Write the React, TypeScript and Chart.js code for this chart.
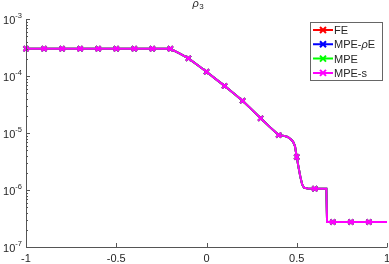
import React, { useEffect, useRef } from "react";
import { Chart, registerables } from "chart.js";

Chart.register(...registerables);

// ---- data ----
const xs = [
  -1, -0.9, -0.8, -0.7, -0.6, -0.5, -0.4, -0.3, -0.2, -0.15, -0.1, -0.05, 0, 0.05, 0.1,
  0.15, 0.2, 0.25, 0.3, 0.35, 0.4, 0.43, 0.45, 0.47, 0.48, 0.49, 0.5, 0.51, 0.52, 0.53,
  0.54, 0.56, 0.6, 0.65, 0.664, 0.668, 0.7, 0.8, 0.9, 1.0,
];
const rho3 = [
  3.0e-4, 3.0e-4, 3.0e-4, 3.0e-4, 3.0e-4, 3.0e-4, 3.0e-4, 3.0e-4, 3.0e-4, 2.5e-4, 2.04e-4,
  1.56e-4, 1.19e-4, 8.9e-5, 6.7e-5, 5.0e-5, 3.69e-5, 2.6e-5, 1.81e-5, 1.28e-5, 9.2e-6,
  8.9e-6, 8.5e-6, 7.6e-6, 7.0e-6, 5.9e-6, 3.8e-6, 2.5e-6, 1.7e-6, 1.25e-6, 1.1e-6,
  1.06e-6, 1.05e-6, 1.05e-6, 1.05e-6, 2.75e-7, 2.75e-7, 2.75e-7, 2.75e-7, 2.75e-7,
];
const markerXs = [-1, -0.9, -0.8, -0.7, -0.6, -0.5, -0.4, -0.3, -0.2, -0.1, 0, 0.1, 0.2, 0.3, 0.4, 0.5, 0.6, 0.7, 0.8, 0.9];
const seriesNames = ["FE", "MPE-ρE", "MPE", "MPE-s"];
const seriesColors = ["#ff0000", "#0000ff", "#00ff00", "#ff00ff"];
const xTicks = [-1, -0.5, 0, 0.5, 1];
const xTickLabels = ["-1", "-0.5", "0", "0.5", "1"];
const yTickExps = [-3, -4, -5, -6, -7];

const FONT = '"Liberation Sans", Arial, Helvetica, sans-serif';
const AXIS = "#555555";
const TEXT = "#262626";

function drawRich(ctx: CanvasRenderingContext2D, text: string, x: number, y: number, size: number) {
  let cx = x;
  for (const ch of text) {
    ctx.font = (ch === "ρ" ? "italic " : "") + size + "px " + FONT;
    ctx.fillText(ch, cx, y);
    cx += ctx.measureText(ch).width;
  }
}

const decorPlugin = {
  id: "decor",
  afterDatasetsDraw(chart: any) {
    const ctx: CanvasRenderingContext2D = chart.ctx;
    const xs_ = chart.scales.x;
    const ys_ = chart.scales.y;
    const { left, right, top, bottom } = chart.chartArea;
    ctx.save();
    // axes lines
    ctx.strokeStyle = AXIS;
    ctx.lineWidth = 1;
    ctx.beginPath();
    ctx.moveTo(left + 0.5, top);
    ctx.lineTo(left + 0.5, bottom + 0.5);
    ctx.lineTo(right + 0.5, bottom + 0.5);
    ctx.stroke();
    // x ticks
    ctx.beginPath();
    for (const t of xTicks) {
      const px = Math.round(xs_.getPixelForValue(t)) + 0.5;
      ctx.moveTo(px, bottom);
      ctx.lineTo(px, bottom - 4);
    }
    // y ticks major + minor
    for (const e of yTickExps) {
      const py = Math.round(ys_.getPixelForValue(Math.pow(10, e))) + 0.5;
      ctx.moveTo(left, py);
      ctx.lineTo(left + 4, py);
      if (e === -3) continue;
      for (let m = 2; m <= 9; m++) {
        const v = m * Math.pow(10, e);
        const pm = Math.round(ys_.getPixelForValue(v)) + 0.5;
        ctx.moveTo(left, pm);
        ctx.lineTo(left + 2, pm);
      }
    }
    ctx.stroke();
    // x tick labels
    ctx.fillStyle = TEXT;
    ctx.font = "11px " + FONT;
    ctx.textAlign = "center";
    ctx.textBaseline = "alphabetic";
    xTicks.forEach((t, i) => {
      const px = xs_.getPixelForValue(t);
      ctx.fillText(xTickLabels[i], px, bottom + 15);
    });
    // y tick labels 10^e
    ctx.textAlign = "left";
    for (const e of yTickExps) {
      const py = ys_.getPixelForValue(Math.pow(10, e));
      ctx.font = "11px " + FONT;
      const w10 = ctx.measureText("10").width;
      ctx.font = "7.5px " + FONT;
      const sup = "-" + String(-e);
      const wsup = ctx.measureText(sup).width;
      const x0 = left - 4 - w10 - wsup;
      ctx.font = "11px " + FONT;
      ctx.fillText("10", x0, py + 5);
      ctx.font = "7.5px " + FONT;
      ctx.fillText(sup, x0 + w10, py - 1);
    }
    // title rho_3
    ctx.font = "italic 11px " + FONT;
    ctx.fillText("ρ", 192.5, 7);
    const wr = ctx.measureText("ρ").width;
    ctx.font = "8px " + FONT;
    ctx.fillText("3", 192.5 + wr + 0.5, 9);
    // legend
    const lx = 310.5, ly = 22.5, lw = 72, lh = 58;
    ctx.fillStyle = "#ffffff";
    ctx.fillRect(lx, ly, lw, lh);
    ctx.strokeStyle = "#666666";
    ctx.lineWidth = 1;
    ctx.strokeRect(lx, ly, lw, lh);
    chart.data.datasets.forEach((ds: any, i: number) => {
      const cy = 30 + i * 14.3;
      ctx.strokeStyle = ds.borderColor;
      ctx.lineWidth = 2;
      ctx.beginPath();
      ctx.moveTo(313, cy);
      ctx.lineTo(333, cy);
      const r = 3;
      ctx.moveTo(323 - r, cy - r);
      ctx.lineTo(323 + r, cy + r);
      ctx.moveTo(323 - r, cy + r);
      ctx.lineTo(323 + r, cy - r);
      ctx.stroke();
      ctx.fillStyle = TEXT;
      drawRich(ctx, ds.label, 334, cy + 4, 11);
    });
    ctx.restore();
  },
};

export default function App() {
  const ref = useRef<HTMLCanvasElement | null>(null);
  useEffect(() => {
    document.body.style.margin = "0";
    const canvas = ref.current!;
    const isMarker = (x: number) => markerXs.some((m) => Math.abs(m - x) < 1e-9);
    const datasets = seriesNames.map((name, i) => ({
      label: name,
      data: xs.map((x, j) => ({ x, y: rho3[j] })),
      borderColor: seriesColors[i],
      backgroundColor: seriesColors[i],
      borderWidth: 2,
      pointStyle: "crossRot",
      pointRadius: (c: any) => (c.raw && isMarker(c.raw.x) ? 3.5 : 0),
      pointBorderWidth: 2,
      pointHoverRadius: 0,
      tension: 0,
      clip: false,
      order: seriesNames.length - 1 - i,
    }));
    const chart = new Chart(canvas, {
      type: "line",
      data: { datasets },
      options: {
        animation: false,
        responsive: false,
        devicePixelRatio: 1,
        events: [],
        layout: { autoPadding: false, padding: { left: 26, right: 2, top: 19, bottom: 17 } },
        plugins: { legend: { display: false }, tooltip: { enabled: false }, title: { display: false } },
        scales: {
          x: {
            type: "linear",
            min: -1,
            max: 1,
            ticks: { display: false },
            grid: { display: false },
            border: { display: false },
            afterFit: (s: any) => { s.height = 0; s.paddingLeft = 0; s.paddingRight = 0; },
          },
          y: {
            type: "logarithmic",
            min: 1e-7,
            max: 1e-3,
            ticks: { display: false },
            grid: { display: false },
            border: { display: false },
            afterFit: (s: any) => { s.width = 0; s.paddingTop = 0; s.paddingBottom = 0; },
          },
        },
      } as any,
      plugins: [decorPlugin],
    });
    return () => chart.destroy();
  }, []);
  return <canvas ref={ref} width={389} height={264} style={{ display: "block" }} />;
}
